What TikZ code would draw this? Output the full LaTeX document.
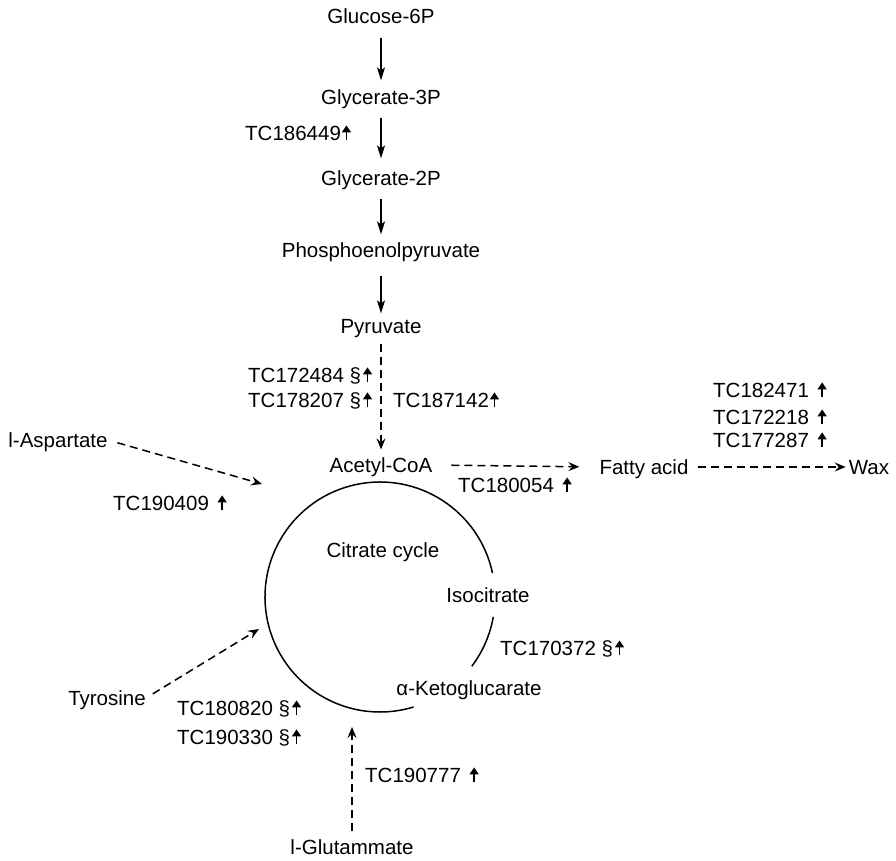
\documentclass[tikz,border=0pt]{standalone}
\usepackage{fontspec}
\setmainfont{Liberation Sans}
\usetikzlibrary{arrows.meta}
\newcommand\uar{\tikz[baseline=0pt]\draw[line width=1.4pt,-{Triangle[length=7pt,width=9pt]}] (0pt,0pt) -- (0pt,15pt);}
\begin{document}
\begin{tikzpicture}[x=1pt,y=-1pt,
  every node/.style={font=\fontsize{20.5}{24}\selectfont, inner sep=0pt, text height=14.8pt, text depth=0pt},
  lbl/.style={anchor=west},
  solidarrow/.style={line width=1.5pt, -{Stealth[length=13pt,width=8pt,inset=3pt]}},
  dasharrow/.style={line width=1.5pt, dash pattern=on 8pt off 5pt, -{Stealth[length=11pt,width=9pt,inset=4pt]}},
  cyc/.style={line width=1.5pt}]
\useasboundingbox (0,0) rectangle (896,861);
% metabolites
\node (g6p) at (381,16) {Glucose-6P};
\node (g3p) at (381,97) {Glycerate-3P};
\node (g2p) at (381,178) {Glycerate-2P};
\node (pep) at (381,250) {Phosphoenolpyruvate};
\node (pyr) at (381,326) {Pyruvate};
\node (acoa) at (381,465) {Acetyl-CoA};
\node (fatty) at (644,467) {Fatty acid};
\node (wax) at (869,467) {Wax};
\node (asp) at (58,440) {l-Aspartate};
\node (tyr) at (107,698) {Tyrosine};
\node (glu) at (352,847) {l-Glutammate};
\node (cit) at (383,550) {Citrate cycle};
\node (iso) at (488,595) {Isocitrate};
\node (akg) at (469,688) {α-Ketoglucarate};
% gene labels
\node[lbl] (t1) at (245,133) {TC186449\kern1pt\uar};
\node[lbl] (t2) at (248,375) {TC172484 §\kern2pt\uar};
\node[lbl] (t3) at (248,400) {TC178207 §\kern2pt\uar};
\node[lbl] (t4) at (393,400) {TC187142\kern1pt\uar};
\node[lbl] (t5) at (713,390) {TC182471 \kern3pt\uar};
\node[lbl] (t6) at (713,417) {TC172218 \kern3pt\uar};
\node[lbl] (t7) at (713,440) {TC177287 \kern3pt\uar};
\node[lbl] (t8) at (458,485) {TC180054 \kern3pt\uar};
\node[lbl] (t9) at (113,503) {TC190409 \kern3pt\uar};
\node[lbl] (t10) at (500,648) {TC170372 §\kern2pt\uar};
\node[lbl] (t11) at (177,708) {TC180820 §\kern2pt\uar};
\node[lbl] (t12) at (177,737) {TC190330 §\kern2pt\uar};
\node[lbl] (t13) at (365,775) {TC190777 \kern3pt\uar};
% cycle
\coordinate (C) at (380,597);
\draw[cyc] ([shift={(12:115pt)}]C) arc[start angle=12, end angle=287, radius=115pt];
\draw[cyc] ([shift={(-10:115pt)}]C) arc[start angle=-10, end angle=-37, radius=115pt];
% arrow tips at the cycle
\coordinate (aspT) at (262,484);
\coordinate (tyrT) at (259,629);
\coordinate (gluT) at (352,727);
% connectors
\draw[solidarrow, shorten <=14pt, shorten >=9pt] (g6p.south) -- (g3p.north);
\draw[solidarrow, shorten <=13pt, shorten >=12pt] (g3p.south) -- (g2p.north);
\draw[solidarrow, shorten <=13pt, shorten >=8pt] (g2p.south) -- (pep.north);
\draw[solidarrow, shorten <=18pt, shorten >=5pt] (pep.south) -- (pyr.north);
\draw[dasharrow, shorten <=10pt, shorten >=8pt] (pyr.south) -- (acoa.north);
\draw[dasharrow, shorten <=19pt, shorten >=20pt] (acoa.east) -- (fatty.west);
\draw[dasharrow, shorten <=9pt, shorten >=3pt] (fatty.east) -- (wax.west);
\draw[dasharrow, shorten <=10pt] (asp.east) -- (aspT);
\draw[dasharrow, shorten <=8pt] (tyr.east) -- (tyrT);
\draw[dasharrow, shorten <=8pt] (glu.north) -- (gluT);
\end{tikzpicture}
\end{document}
